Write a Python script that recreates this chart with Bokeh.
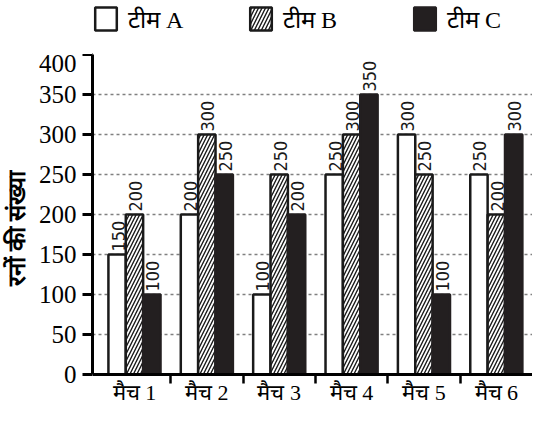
import numpy as np
from bokeh.plotting import figure
from bokeh.layouts import column
from bokeh.models import Range1d, FixedTicker, Legend, LegendItem, ColumnDataSource
from bokeh.core.properties import value
from bokeh.embed import file_html
from bokeh.resources import INLINE

matches = ["मैच 1", "मैच 2", "मैच 3", "मैच 4", "मैच 5", "मैच 6"]
team_a = [150, 200, 100, 250, 300, 250]
team_b = [200, 300, 250, 300, 250, 200]
team_c = [100, 250, 200, 350, 100, 300]
series_names = ["टीम A", "टीम B", "टीम C"]
y_ticks = [0, 50, 100, 150, 200, 250, 300, 350, 400]

centers = np.arange(len(matches)) + 0.5
bw = 0.24
font_serif = "Liberation Serif"
ink = "#1a1a1a"
dark = "#231f20"

styles = [dict(fill_color="white", line_color=ink, line_width=2.5),
          dict(fill_color="white", line_color=ink, line_width=2.5, hatch_pattern="/",
               hatch_color=ink, hatch_scale=7, hatch_weight=1.4),
          dict(fill_color=dark, line_color=dark, line_width=2.5)]

# layout constants (pixels)
W = 532
LEG_H = 54
MAIN_H = 347
LEFT = 90
AXIS_PX = 320                    # pixels from 0 to 400
PX_PER_UNIT_Y = AXIS_PX / 400.0
x_start = -0.08
x_end = 6.0
y_bottom = -(MAIN_H - AXIS_PX) / PX_PER_UNIT_Y

# ---------- main chart ----------
p = figure(width=W, height=MAIN_H, output_backend="svg", toolbar_location=None,
           x_range=Range1d(x_start, x_end),
           y_range=Range1d(y_bottom, 400),
           min_border_left=LEFT, min_border_right=0, min_border_top=0, min_border_bottom=0)
p.outline_line_color = None
p.xgrid.grid_line_color = None
p.ygrid.ticker = FixedTicker(ticks=y_ticks[1:])
p.ygrid.grid_line_color = "#808080"
p.ygrid.grid_line_dash = "3 3"
p.ygrid.grid_line_width = 1.5

for offs, vals, st in ((-bw, team_a, styles[0]), (0, team_b, styles[1]), (bw, team_c, styles[2])):
    p.vbar(x=centers + offs, top=vals, width=bw, **st)

for offs, vals in ((-bw, team_a), (0, team_b), (bw, team_c)):
    src = ColumnDataSource(dict(x=centers + offs, y=vals, t=[str(v) for v in vals]))
    p.text(x="x", y="y", text="t", source=src, angle=np.pi / 2,
           text_align="left", text_baseline="middle", y_offset=-3, x_offset=1,
           text_font=value("DejaVu Sans Condensed"), text_font_size="18px",
           text_color=ink)

ya = p.yaxis[0]
ya.ticker = FixedTicker(ticks=y_ticks)
ya.bounds = (0, 400)
ya.axis_line_width = 3
ya.major_tick_line_width = 3
ya.major_tick_out = 10
ya.major_tick_in = 0
ya.minor_tick_line_color = None
ya.major_label_text_font = font_serif
ya.major_label_text_font_size = "25px"
ya.major_label_text_color = "black"
ya.major_label_standoff = 6
ya.axis_label = "रनों की संख्या"
ya.axis_label_text_font = font_serif
ya.axis_label_text_font_style = "bold"
ya.axis_label_text_font_size = "24px"
ya.axis_label_text_color = "black"
ya.axis_label_standoff = 6

xa = p.xaxis[0]
xa.fixed_location = 0
xa.ticker = FixedTicker(ticks=list(centers), minor_ticks=[1, 2, 3, 4, 5])
xa.major_label_overrides = {float(c): m for c, m in zip(centers, matches)}
xa.axis_line_width = 3
xa.major_tick_line_color = None
xa.major_tick_out = 0
xa.major_tick_in = 0
xa.minor_tick_line_width = 2.5
xa.minor_tick_out = 9
xa.minor_tick_in = 0
xa.major_label_text_font = font_serif
xa.major_label_text_font_size = "22px"
xa.major_label_text_color = "black"
xa.major_label_standoff = -4

# ---------- legend strip ----------
lg = figure(width=W, height=LEG_H, output_backend="svg", toolbar_location=None,
            x_range=Range1d(0, 1), y_range=Range1d(0, 1),
            min_border=0, x_axis_type=None, y_axis_type=None)
lg.outline_line_color = None
lg.grid.visible = False
dummy = [lg.vbar(x=[-10], top=[0], width=0.1, **st) for st in styles]
leg_x = [0, 155, 319]
for name, r, lx in zip(series_names, dummy, leg_x):
    legend = Legend(items=[LegendItem(label=name, renderers=[r])],
                    orientation="horizontal", location=(lx, LEG_H - 6 - 29),
                    glyph_width=27, glyph_height=29, label_standoff=9,
                    padding=0, margin=0, border_line_color=None,
                    background_fill_alpha=0,
                    label_text_font=font_serif, label_text_font_size="24px",
                    label_text_color="black")
    lg.add_layout(legend, "center")

layout = column(lg, p, spacing=0)
open("out.html", "w").write(file_html(layout, INLINE))
